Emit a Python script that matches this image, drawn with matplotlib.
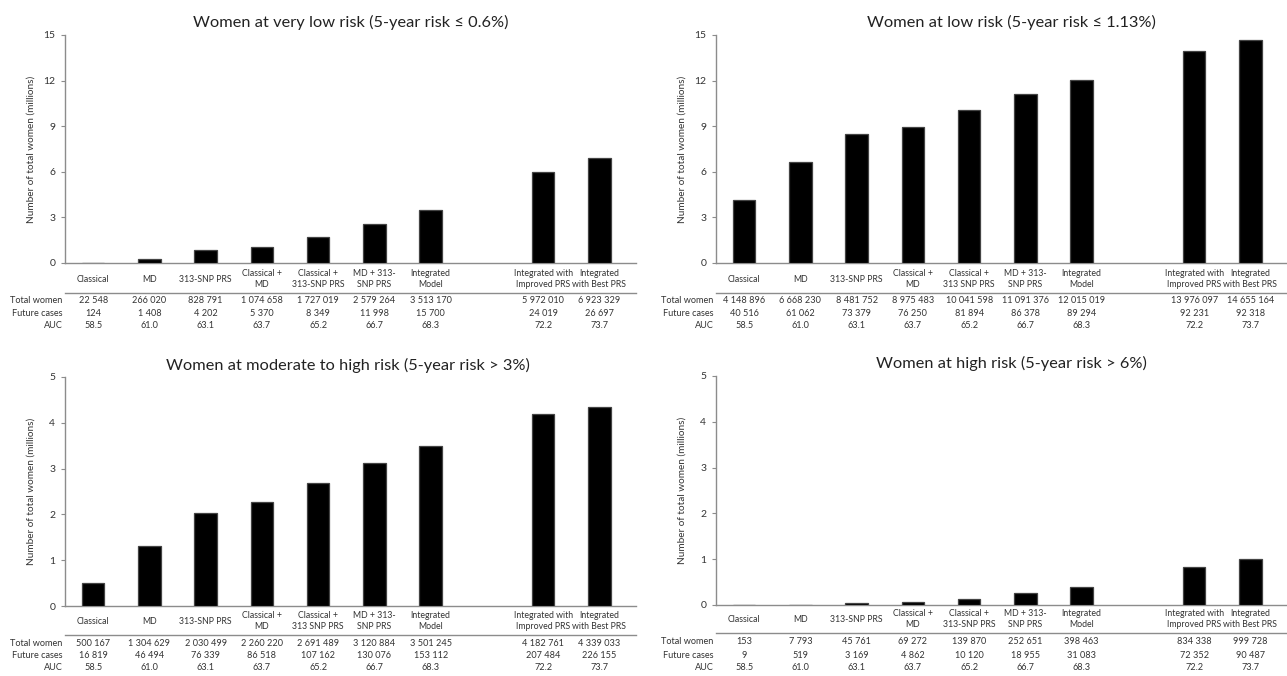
import matplotlib
matplotlib.use("Agg")
import matplotlib.pyplot as plt
from matplotlib.transforms import blended_transform_factory

plt.rcParams["font.family"] = ["Lato", "DejaVu Sans"]

W, H = 1287, 676

positions = [0, 1, 2, 3, 4, 5, 6, 8, 9]

labels_a = ["Classical", "MD", "313-SNP PRS", "Classical +\nMD", "Classical +\n313-SNP PRS",
            "MD + 313-\nSNP PRS", "Integrated\nModel", "Integrated with\nImproved PRS",
            "Integrated\nwith Best PRS"]
labels_b = ["Classical", "MD", "313-SNP PRS", "Classical +\nMD", "Classical +\n313 SNP PRS",
            "MD + 313-\nSNP PRS", "Integrated\nModel", "Integrated with\nImproved PRS",
            "Integrated\nwith Best PRS"]

auc = [58.5, 61.0, 63.1, 63.7, 65.2, 66.7, 68.3, 72.2, 73.7]

verylow_women = [22548, 266020, 828791, 1074658, 1727019, 2579264, 3513170, 5972010, 6923329]
verylow_cases = [124, 1408, 4202, 5370, 8349, 11998, 15700, 24019, 26697]

low_women = [4148896, 6668230, 8481752, 8975483, 10041598, 11091376, 12015019, 13976097, 14655164]
low_cases = [40516, 61062, 73379, 76250, 81894, 86378, 89294, 92231, 92318]

modhigh_women = [500167, 1304629, 2030499, 2260220, 2691489, 3120884, 3501245, 4182761, 4339033]
modhigh_cases = [16819, 46494, 76339, 86518, 107162, 130076, 153112, 207484, 226155]

high_women = [153, 7793, 45761, 69272, 139870, 252651, 398463, 834338, 999728]
high_cases = [9, 519, 3169, 4862, 10120, 18955, 31083, 72352, 90487]

PANELS = [
    # title, women, cases, labels, yticks, left px, top px, bottom px, title y/x-shift, rows px
    ("Women at very low risk (5-year risk \u2264 0.6%)", verylow_women, verylow_cases, labels_a,
     [0, 3, 6, 9, 12, 15], 65, 35, 263, (22, 0), (279, 293, 300, 313, 326)),
    ("Women at low risk (5-year risk \u2264 1.13%)", low_women, low_cases, labels_b,
     [0, 3, 6, 9, 12, 15], 716, 35, 263, (22, 10), (279, 293, 300, 313, 326)),
    ("Women at moderate to high risk (5-year risk > 3%)", modhigh_women, modhigh_cases, labels_b,
     [0, 1, 2, 3, 4, 5], 65, 377, 606, (365, -3), (621, 635, 643, 656, 668)),
    ("Women at high risk (5-year risk > 6%)", high_women, high_cases, labels_a,
     [0, 1, 2, 3, 4, 5], 716, 376, 605, (363, 10), (619, 633, 642, 655, 668)),
]

AX_W = 571
XLIM = (-0.5, 9.65)
GRAY = "#8c8c8c"
TXT = "#333333"


def fmt(v):
    return f"{v:,}".replace(",", " ")


fig = plt.figure(figsize=(W / 100, H / 100), dpi=100)

for title, women, cases, labels, yticks, left, top, bottom, (ty, tdx), rows in PANELS:
    ax = fig.add_axes([left / W, 1 - bottom / H, AX_W / W, (bottom - top) / H])
    vals = [w / 1e6 for w in women]
    ax.bar(positions, vals, width=0.4, color="black", edgecolor="#444444", linewidth=0.9,
           zorder=3)
    ax.set_xlim(*XLIM)
    ax.set_ylim(0, yticks[-1])
    ax.set_yticks(yticks)
    ax.set_xticks([])
    for s in ("top", "right"):
        ax.spines[s].set_visible(False)
    for s in ("left", "bottom"):
        ax.spines[s].set_color(GRAY)
        ax.spines[s].set_linewidth(1.0)
    ax.tick_params(axis="y", length=3, color=GRAY, labelsize=7.5, labelcolor=TXT, pad=4)

    # title and y label
    fig.text((left + AX_W / 2 + tdx) / W, 1 - ty / H, title, ha="center", va="center",
             fontsize=11.8, color="#222222")
    fig.text((left - 34) / W, 1 - (top + bottom) / 2 / H, "Number of total women (millions)",
             rotation=90, ha="center", va="center", fontsize=7.2, color=TXT)

    # table under the bars
    yl, ysep, yr1, yr2, yr3 = rows
    bt = blended_transform_factory(ax.transData, fig.transFigure)
    ba = blended_transform_factory(ax.transAxes, fig.transFigure)
    for x, lab in zip(positions, labels):
        ax.text(x, 1 - yl / H, lab, transform=bt, ha="center", va="center",
                fontsize=6.3, color=TXT, linespacing=1.4)
    ax.plot([0, 1], [1 - ysep / H] * 2, transform=ba, color=GRAY, lw=1.0, clip_on=False)
    for yr, name, col in [(yr1, "Total women", [fmt(v) for v in women]),
                          (yr2, "Future cases", [fmt(v) for v in cases]),
                          (yr3, "AUC", [f"{a:.1f}" for a in auc])]:
        ax.text(-0.004, 1 - yr / H, name, transform=ba, ha="right", va="center",
                fontsize=6.6, color=TXT)
        for x, s in zip(positions, col):
            ax.text(x, 1 - yr / H, s, transform=bt, ha="center", va="center",
                    fontsize=6.6, color=TXT)

fig.savefig("out.png", dpi=100)
